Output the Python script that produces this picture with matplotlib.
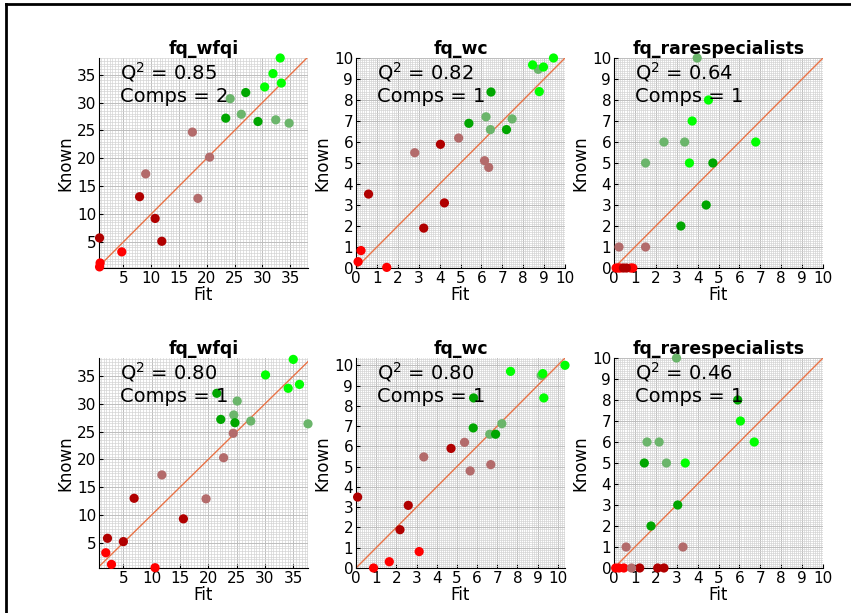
import numpy as np
import matplotlib.pyplot as plt
from matplotlib.ticker import MultipleLocator
from matplotlib.lines import Line2D

# group colours (0 = bright red ... 5 = bright green)
group_colors = ['#FF0000', '#B00000', '#B36B6B', '#6BB56B', '#00A600', '#00FF00']

titles = ['fq_wfqi', 'fq_wc', 'fq_rarespecialists',
          'fq_wfqi', 'fq_wc', 'fq_rarespecialists']
q2_values = ['0.85', '0.82', '0.64', '0.80', '0.80', '0.46']
comps = [2, 1, 1, 1, 1, 1]

# top row, fq_wfqi
wfqi_a_fit = [0.7, 0.8, 4.7, 0.7, 7.9, 10.7, 11.9, 9.0, 17.4, 18.4, 20.5,
              24.2, 26.2, 32.4, 34.8, 23.4, 27.0, 29.2, 33.2, 31.9, 30.4, 33.4]
wfqi_a_known = [0.5, 1.2, 3.2, 5.7, 13.1, 9.2, 5.1, 17.2, 24.7, 12.8, 20.2,
                30.7, 27.9, 26.9, 26.3, 27.2, 31.8, 26.6, 38.0, 35.2, 32.8, 33.5]
wfqi_a_group = [0, 0, 0, 1, 1, 1, 1, 2, 2, 2, 2, 3, 3, 3, 3, 4, 4, 4, 5, 5, 5, 5]

# top row, fq_wc
wc_a_fit = [0.1, 0.24, 1.47, 0.6, 3.24, 4.04, 4.23, 2.81, 4.91, 6.15, 6.35,
            6.22, 6.43, 7.47, 8.72, 5.4, 6.46, 7.2, 8.45, 8.97, 9.45, 8.77]
wc_a_known = [0.3, 0.83, 0.03, 3.52, 1.9, 5.89, 3.1, 5.49, 6.19, 5.11, 4.79,
              7.2, 6.59, 7.1, 9.46, 6.89, 8.38, 6.59, 9.67, 9.57, 10.0, 8.4]
wc_a_group = [0, 0, 0, 1, 1, 1, 1, 2, 2, 2, 2, 3, 3, 3, 3, 4, 4, 4, 5, 5, 5, 5]

# top row, fq_rarespecialists
rare_a_fit = [0.1, 0.2, 0.3, 0.8, 0.9, 0.45, 0.6, 0.24, 1.51,
              1.51, 2.39, 3.38, 3.98, 3.2, 4.41, 4.73, 3.61, 3.74, 4.52, 6.78]
rare_a_known = [0, 0, 0, 0, 0, 0, 0, 1, 1,
                5, 6, 6, 10, 2, 3, 5, 5, 7, 8, 6]
rare_a_group = [0, 0, 0, 0, 0, 1, 1, 2, 2, 3, 3, 3, 3, 4, 4, 4, 5, 5, 5, 5]

# bottom row, fq_wfqi
wfqi_b_fit = [1.9, 2.9, 10.6, 2.2, 5.0, 6.9, 15.6, 11.8, 19.6, 22.7, 24.4,
              24.5, 25.1, 27.5, 37.6, 21.5, 22.2, 24.7, 35.0, 30.1, 34.1, 36.1]
wfqi_b_known = [3.2, 1.1, 0.5, 5.8, 5.2, 13.0, 9.3, 17.2, 12.9, 20.3, 24.7,
                28.0, 30.5, 26.9, 26.4, 31.9, 27.2, 26.6, 38.0, 35.2, 32.8, 33.5]
wfqi_b_group = [0, 0, 0, 1, 1, 1, 1, 2, 2, 2, 2, 3, 3, 3, 3, 4, 4, 4, 5, 5, 5, 5]

# bottom row, fq_wc
wc_b_fit = [0.87, 1.65, 3.13, 0.08, 2.18, 2.59, 4.71, 3.36, 5.38, 5.66, 6.68,
            6.63, 7.23, 9.18, 5.83, 5.81, 6.92, 7.66, 9.26, 10.36, 9.31]
wc_b_known = [0.0, 0.31, 0.81, 3.5, 1.89, 3.09, 5.9, 5.48, 6.2, 4.79, 5.1,
              6.6, 7.12, 9.5, 8.39, 6.91, 6.6, 9.7, 9.59, 10.0, 8.39]
wc_b_group = [0, 0, 0, 1, 1, 1, 1, 2, 2, 2, 2, 3, 3, 3, 4, 4, 4, 5, 5, 5, 5]

# bottom row, fq_rarespecialists
rare_b_fit = [0.08, 0.24, 0.47, 1.23, 2.09, 2.39, 0.58, 3.3, 0.84,
              1.58, 2.16, 2.51, 2.99, 1.45, 1.77, 3.05, 5.92, 3.41, 6.05, 6.71]
rare_b_known = [0, 0, 0, 0, 0, 0, 1, 1, 0,
                6, 6, 5, 10, 5, 2, 3, 8, 5, 7, 6]
rare_b_group = [0, 0, 0, 1, 1, 1, 2, 2, 2, 3, 3, 3, 3, 4, 4, 4, 4, 5, 5, 5]

panels = [
    (wfqi_a_fit, wfqi_a_known, wfqi_a_group),
    (wc_a_fit, wc_a_known, wc_a_group),
    (rare_a_fit, rare_a_known, rare_a_group),
    (wfqi_b_fit, wfqi_b_known, wfqi_b_group),
    (wc_b_fit, wc_b_known, wc_b_group),
    (rare_b_fit, rare_b_known, rare_b_group),
]

xlims = [(0.6, 38.2), (0, 10), (0, 10), (0.7, 37.6), (0, 10.36), (0, 10)]
ylims = [(0.3, 38), (0, 10), (0, 10), (0.45, 38.25), (0, 10.36), (0, 10)]

fig = plt.figure(figsize=(8.51, 6.13), dpi=100)
W, H = 851, 613
lefts = [99, 356, 614]
bottoms = [268, 568]
aw, ah = 209, 210

for i, (fit, known, grp) in enumerate(panels):
    row, col = divmod(i, 3)
    ax = fig.add_axes([lefts[col] / W, 1 - bottoms[row] / H, aw / W, ah / H])
    ax.set_xlim(xlims[i])
    ax.set_ylim(ylims[i])

    big = xlims[i][1] > 20
    step = 5 if big else 1
    ax.xaxis.set_major_locator(MultipleLocator(step))
    ax.yaxis.set_major_locator(MultipleLocator(step))
    ax.xaxis.set_minor_locator(MultipleLocator(step / 10 if not big else 0.5))
    ax.yaxis.set_minor_locator(MultipleLocator(step / 10 if not big else 0.5))
    ax.grid(True, which='minor', color='#d4d4d4', linewidth=0.5)
    ax.grid(True, which='major', color='#bdbdbd', linewidth=0.7)
    ax.set_axisbelow(True)
    ax.tick_params(which='minor', length=0)
    ax.tick_params(which='major', direction='in', length=3, labelsize=11,
                   pad=2)

    for s in ['top', 'right']:
        ax.spines[s].set_visible(False)

    ax.plot([0, 40], [0, 40], color=(0.91, 0.45, 0.28), lw=1)
    cols = [group_colors[g] for g in grp]
    ax.scatter(fit, known, s=44, c=cols, zorder=3, linewidths=0, clip_on=False)

    ax.set_title(titles[i], fontweight='bold', fontsize=12.4, pad=3)
    ax.set_xlabel('Fit', fontsize=12, labelpad=0)
    ax.set_ylabel('Known', fontsize=12, labelpad=2)
    ax.text(0.1, 0.9, '$\\mathregular{Q^2}$ = ' + q2_values[i], transform=ax.transAxes,
            fontsize=14, va='baseline', zorder=4)
    ax.text(0.1, 0.79, 'Comps = %d' % comps[i], transform=ax.transAxes,
            fontsize=14, va='baseline', zorder=4)

# frame lines along top and left edge
fig.add_artist(Line2D([6 / W, 6 / W], [0, 1 - 4 / H], color='black', lw=2,
                      transform=fig.transFigure))
fig.add_artist(Line2D([6 / W, 1], [1 - 4 / H, 1 - 4 / H], color='black', lw=2,
                      transform=fig.transFigure))

fig.savefig('out.png', dpi=100)
